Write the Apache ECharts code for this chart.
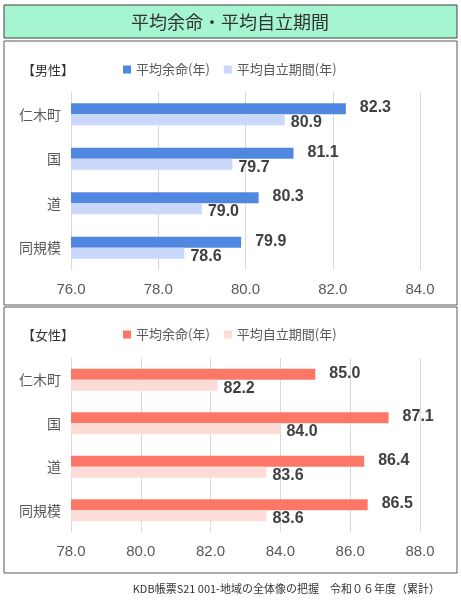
<!DOCTYPE html>
<html><head><meta charset="utf-8">
<script src="https://cdn.jsdelivr.net/npm/echarts@6/dist/echarts.min.js"></script>
<style>body{margin:0;background:#fff}#c{width:461px;height:600px}</style></head>
<body><div id="c"></div>
<script>
const categories = ['仁木町','国','道','同規模'];
const maleLife = [82.3, 81.1, 80.3, 79.9];
const maleIndep = [80.9, 79.7, 79.0, 78.6];
const femaleLife = [85.0, 87.1, 86.4, 86.5];
const femaleIndep = [82.2, 84.0, 83.6, 83.6];
const seriesNames = ['平均余命(年)', '平均自立期間(年)'];
const F = '"Noto Sans CJK JP", sans-serif';
const ch = echarts.init(document.getElementById('c'));
function bars(data, color, gi, pos){
  return {type:'bar', name:seriesNames[pos], xAxisIndex:gi, yAxisIndex:gi, data:data, barWidth:11, barGap:'0%',
    itemStyle:{color:color}, label:{show:true, position:'right', distance: pos===0?14:6, offset:[0,pos===0?-1:3],
    formatter:p=>p.value.toFixed(1), fontSize:16, fontWeight:600, color:'#404040', fontFamily:'Arial'}};
}
const xa = (min,max,gi)=>({gridIndex:gi, type:'value', min:min, max:max, interval:2,
  axisLabel:{formatter:v=>v.toFixed(1), fontSize:15, color:'#595959', fontFamily:'Arial', margin:12},
  splitLine:{lineStyle:{color:'#d9d9d9'}}, axisLine:{show:false}});
const ya = gi=>({gridIndex:gi, type:'category', data:categories, inverse:true,
  axisLabel:{fontSize:14, color:'#595959', fontFamily:F, margin:10}, axisTick:{show:false},
  axisLine:{lineStyle:{color:'#d9d9d9'}}});
ch.setOption({
  animation:false,
  graphic:[
    {type:'rect', shape:{x:4,y:5,width:453,height:33}, style:{fill:'#a6f5d1', stroke:'#404040', lineWidth:1}},
    {type:'text', x:230, y:22, style:{text:'平均余命・平均自立期間', font:'18px '+F, fill:'#333', textAlign:'center', textVerticalAlign:'middle'}},
    {type:'rect', shape:{x:4,y:41,width:453,height:264}, style:{fill:'none', stroke:'#595959', lineWidth:1}},
    {type:'rect', shape:{x:4,y:307,width:453,height:266}, style:{fill:'none', stroke:'#595959', lineWidth:1}},
    {type:'text', x:22, y:70, style:{text:'【男性】', font:'13px '+F, fill:'#333', textVerticalAlign:'middle'}},
    {type:'text', x:22, y:335, style:{text:'【女性】', font:'13px '+F, fill:'#333', textVerticalAlign:'middle'}},
    {type:'text', x:440, y:589, style:{text:'KDB帳票S21 001-地域の全体像の把握　令和０６年度（累計）', font:'11px '+F, fill:'#333', textAlign:'right', textVerticalAlign:'middle'}}
  ],
  legend:[
    {data:[{name:seriesNames[0],itemStyle:{color:'#5087e0'}},{name:seriesNames[1],itemStyle:{color:'#c9d8fb'}}], left:118, top:58, itemWidth:8, itemHeight:8, icon:'rect', itemGap:14,
      textStyle:{fontSize:13, color:'#595959', fontFamily:F}, selectedMode:false},
  ],
  grid:[{left:71, right:41, top:92, height:178},{left:71, right:41, top:358, height:174}],
  xAxis:[xa(76,84,0), xa(78,88,1)],
  yAxis:[ya(0), ya(1)],
  series:[
    bars(maleLife,'#5087e0',0,0), bars(maleIndep,'#c9d8fb',0,1),
    Object.assign(bars(femaleLife,'#fd7767',1,0),{name:'f1'}), Object.assign(bars(femaleIndep,'#fddcd8',1,1),{name:'f2'})
  ]
});
ch.setOption({legend:[ch.getOption().legend[0],
  {data:[{name:'f1',itemStyle:{color:'#fd7767'}},{name:'f2',itemStyle:{color:'#fddcd8'}}], left:118, top:323, itemWidth:8, itemHeight:8, icon:'rect', itemGap:14,
   formatter:n=>n==='f1'?seriesNames[0]:seriesNames[1], textStyle:{fontSize:13, color:'#595959', fontFamily:F}, selectedMode:false}]});
</script></body></html>
